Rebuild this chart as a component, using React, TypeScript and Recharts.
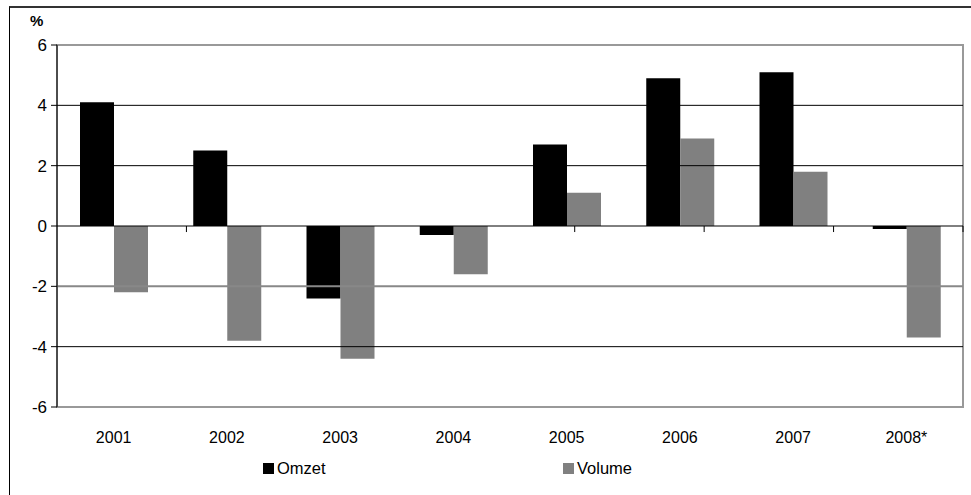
import React from "react";
import { BarChart, Bar, XAxis, YAxis, ReferenceLine, ReferenceArea } from "recharts";

const years = ["2001", "2002", "2003", "2004", "2005", "2006", "2007", "2008*"];
const omzet = [4.1, 2.5, -2.4, -0.3, 2.7, 4.9, 5.1, -0.1];
const volume = [-2.2, -3.8, -4.4, -1.6, 1.1, 2.9, 1.8, -3.7];
const yTicks = [-6, -4, -2, 0, 2, 4, 6];
const darkGrid = [4, 2, -4];
const lightGrid = [-2];
const boundaries = [1, 2, 3, 4, 5, 6, 7];

const data = years.map((y, i) => ({ year: y, Omzet: omzet[i], Volume: volume[i] }));

const FONT = "'Liberation Sans', Arial, sans-serif";

export default function App() {
  return (
    <div style={{ position: "absolute", left: 0, top: 0, width: 971, height: 495, background: "#fff", overflow: "hidden" }}>
      <div style={{ position: "absolute", left: 9, top: 6, width: 980, height: 500, borderTop: "2px solid #333", borderLeft: "1px solid #000" }} />
      <div style={{ position: "absolute", left: 30, top: 12, fontFamily: FONT, fontSize: 15, fontWeight: "bold" }}>%</div>
      <BarChart
        width={971}
        height={495}
        data={data}
        margin={{ top: 45, right: 8, left: 0, bottom: 48 }}
        barGap={0}
        barCategoryGap={23}
        style={{ position: "absolute", left: 0, top: 0 }}
      >
        <ReferenceArea y1={-6} y2={6} fill="none" stroke="#999" strokeWidth={2} ifOverflow="visible" />
        {darkGrid.map((v) => (
          <ReferenceLine key={"d" + v} y={v} stroke="#000" strokeWidth={1} />
        ))}
        {lightGrid.map((v) => (
          <ReferenceLine key={"l" + v} y={v} stroke="#888" strokeWidth={2} />
        ))}
        <XAxis
          dataKey="year"
          axisLine={false}
          tickLine={false}
          height={40}
          tick={{ fill: "#000", fontSize: 16, fontFamily: FONT }}
          tickMargin={19}
        />
        <XAxis xAxisId="b" type="number" domain={[0, years.length]} hide />
        <YAxis
          domain={[-6, 6]}
          ticks={yTicks}
          width={57}
          axisLine={{ stroke: "#000" }}
          tickLine={{ stroke: "#000" }}
          tickSize={6}
          tick={{ fill: "#000", fontSize: 17, fontFamily: FONT }}
          tickMargin={4}
          interval={0}
        />
        <Bar dataKey="Omzet" fill="#000" isAnimationActive={false} />
        <Bar dataKey="Volume" fill="#808080" isAnimationActive={false} />
        <ReferenceLine y={0} stroke="#000" strokeWidth={1} />
        {boundaries.map((b) => (
          <ReferenceLine
            key={"t" + b}
            xAxisId="b"
            segment={[{ x: b, y: 0 }, { x: b, y: -0.2 }]}
            stroke="#000"
            strokeWidth={1}
          />
        ))}
      </BarChart>
      <div style={{ position: "absolute", left: 263, top: 459, display: "flex", fontFamily: FONT, fontSize: 16.5, color: "#000", alignItems: "center" }}>
        <div style={{ display: "flex", alignItems: "center", width: 300 }}>
          <span style={{ display: "inline-block", width: 11, height: 11, background: "#000", marginRight: 3 }} />
          <span>Omzet</span>
        </div>
        <div style={{ display: "flex", alignItems: "center" }}>
          <span style={{ display: "inline-block", width: 11, height: 11, background: "#808080", marginRight: 3 }} />
          <span>Volume</span>
        </div>
      </div>
    </div>
  );
}
